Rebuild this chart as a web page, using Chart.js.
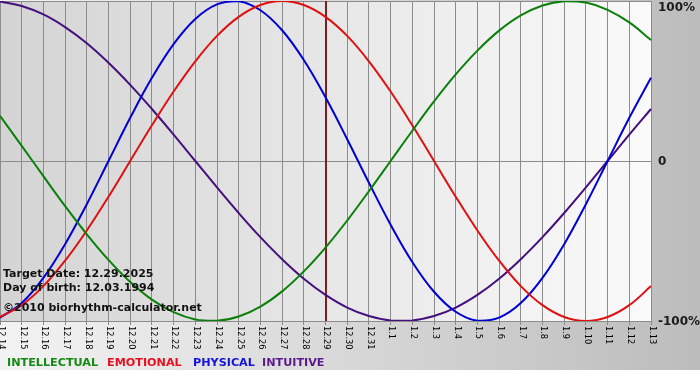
<!DOCTYPE html>
<html>
<head>
<meta charset="utf-8">
<title>Biorhythm</title>
<script src="https://cdn.jsdelivr.net/npm/chart.js@4/dist/chart.umd.min.js"></script>
<style>
  html, body { margin: 0; padding: 0; background: #ffffff; }
  #wrap { width: 700px; height: 380px; position: relative; }
</style>
</head>
<body>
<div id="wrap"><canvas id="bioChart"></canvas></div>
<script>
// Days shown on the x axis (12.14.2025 - 1.13.2026)
var days = ['12.14', '12.15', '12.16', '12.17', '12.18', '12.19', '12.20', '12.21', '12.22', '12.23',
            '12.24', '12.25', '12.26', '12.27', '12.28', '12.29', '12.30', '12.31', '1.1', '1.2',
            '1.3', '1.4', '1.5', '1.6', '1.7', '1.8', '1.9', '1.10', '1.11', '1.12', '1.13'];

// Cycle values in percent, one per day
var physical = [-97.9, -88.8, -73.1, -52.0, -27.0, 0, 27.0, 52.0, 73.1, 88.8, 97.9, 99.8, 94.2,
                81.7, 63.1, 39.8, 13.6, -13.6, -39.8, -63.1, -81.7, -94.2, -99.8, -97.9, -88.8,
                -73.1, -52.0, -27.0, 0, 27.0, 52.0];
var emotional = [-97.5, -90.1, -78.2, -62.3, -43.4, -22.3, 0, 22.3, 43.4, 62.3, 78.2, 90.1, 97.5,
                 100, 97.5, 90.1, 78.2, 62.3, 43.4, 22.3, 0, -22.3, -43.4, -62.3, -78.2, -90.1,
                 -97.5, -100, -97.5, -90.1, -78.2];
var intellectual = [28.2, 9.5, -9.5, -28.2, -45.8, -61.8, -75.6, -86.6, -94.5, -99.0, -99.9, -97.2,
                    -91.0, -81.5, -69.0, -54.1, -37.2, -18.9, 0, 18.9, 37.2, 54.1, 69.0, 81.5,
                    91.0, 97.2, 99.9, 99.0, 94.5, 86.6, 75.6];
var intuitive = [99.7, 96.9, 91.6, 83.7, 73.6, 61.4, 47.6, 32.5, 16.5, 0, -16.5, -32.5, -47.6,
                 -61.4, -73.6, -83.7, -91.6, -96.9, -99.7, -99.7, -96.9, -91.6, -83.7, -73.6,
                 -61.4, -47.6, -32.5, -16.5, 0, 16.5, 32.5];

var yTicks = [100, 0, -100];
var yTickLabels = ['100%', '0', '-100%'];
var targetDay = '12.29';
var infoLines = ['Target Date: 12.29.2025', 'Day of birth: 12.03.1994', '\u00a92010 biorhythm-calculator.net'];
var legendNames = ['INTELLECTUAL', 'EMOTIONAL', 'PHYSICAL', 'INTUITIVE'];

var FONT = '"DejaVu Sans", Verdana, sans-serif';
var GRID = '#8c8c8c';

// Backgrounds: light-to-dark frame, dark-to-light plot area
var backdropPlugin = {
    id: 'backdrop',
    beforeDraw: function (chart) {
        var ctx = chart.ctx, a = chart.chartArea;
        ctx.save();
        ctx.fillStyle = '#ffffff';
        ctx.fillRect(0, 0, chart.width, chart.height);
        var g = ctx.createLinearGradient(0, 0, chart.width, 0);
        g.addColorStop(0, '#f3f3f3');
        g.addColorStop(1, '#bcbcbc');
        ctx.fillStyle = g;
        ctx.fillRect(0, 0, chart.width, 370);
        var p = ctx.createLinearGradient(a.left, 0, a.right, 0);
        p.addColorStop(0, '#d4d4d4');
        p.addColorStop(1, '#fafafa');
        ctx.fillStyle = p;
        ctx.fillRect(a.left, a.top, a.right - a.left, a.bottom - a.top);
        ctx.restore();
    },
    beforeDatasetsDraw: function (chart) {
        // Target date marker
        var ctx = chart.ctx, a = chart.chartArea;
        var x = Math.round(chart.scales.x.getPixelForValue(days.indexOf(targetDay)));
        ctx.save();
        ctx.strokeStyle = '#7d1f1f';
        ctx.lineWidth = 2;
        ctx.beginPath();
        ctx.moveTo(x, a.top);
        ctx.lineTo(x, a.bottom);
        ctx.stroke();
        ctx.restore();
    },
    afterDraw: function (chart) {
        var ctx = chart.ctx, a = chart.chartArea;
        var xs = chart.scales.x, ys = chart.scales.y;
        ctx.save();

        // Rotated day labels, reading top to bottom
        ctx.fillStyle = '#000000';
        ctx.font = '8.2px ' + FONT;
        ctx.textAlign = 'left';
        ctx.textBaseline = 'middle';
        days.forEach(function (d, i) {
            var x = xs.getPixelForValue(i);
            ctx.save();
            ctx.translate(x + 1, a.bottom + 5);
            ctx.rotate(Math.PI / 2);
            ctx.fillText(d, 0, 0);
            ctx.restore();
        });

        // Percent labels on the right
        ctx.fillStyle = '#1a1a1a';
        ctx.font = 'bold 12px ' + FONT;
        var shift = [7, 1, 1];
        yTicks.forEach(function (v, i) {
            ctx.fillText(yTickLabels[i], a.right + 7, ys.getPixelForValue(v) + shift[i]);
        });

        // Info text
        ctx.font = 'bold 11px ' + FONT;
        ctx.textBaseline = 'alphabetic';
        ctx.fillStyle = '#111111';
        var infoY = [277, 291, 311];
        infoLines.forEach(function (t, i) {
            ctx.fillText(t, 3, infoY[i]);
        });

        // Coloured legend names
        ctx.font = 'bold 11.2px ' + FONT;
        var legendX = [7, 107, 193, 262];
        var legendColors = ['#148a14', '#e81020', '#1414d8', '#5a1a8c'];
        legendNames.forEach(function (t, i) {
            ctx.fillStyle = legendColors[i];
            ctx.fillText(t, legendX[i], 366);
        });
        ctx.restore();
    }
};

// Function to render the biorhythm line chart
function renderBioChart() {
    var ctx = document.getElementById('bioChart').getContext('2d');
    new Chart(ctx, {
        type: 'line',
        data: {
            labels: days,
            datasets: [
                { label: 'Intellectual', data: intellectual, borderColor: '#0a800a' },
                { label: 'Emotional', data: emotional, borderColor: '#e01010' },
                { label: 'Physical', data: physical, borderColor: '#0000d4' },
                { label: 'Intuitive', data: intuitive, borderColor: '#44107c' }
            ]
        },
        options: {
            responsive: true,
            maintainAspectRatio: false,
            animation: false,
            events: [],
            layout: { padding: { left: 0, top: 1, right: 49, bottom: 55 } },
            elements: {
                line: { borderWidth: 2, tension: 0.4, fill: false },
                point: { radius: 0 }
            },
            plugins: {
                legend: { display: false },
                tooltip: { enabled: false }
            },
            scales: {
                x: {
                    offset: false,
                    grid: { color: GRID, lineWidth: 1, drawTicks: true, tickLength: 4, tickColor: GRID },
                    border: { color: GRID },
                    ticks: { display: false },
                    afterFit: function (scale) { scale.height = 4; }
                },
                y: {
                    position: 'right',
                    min: -100,
                    max: 100,
                    grid: { color: GRID, lineWidth: 1, drawTicks: false },
                    border: { color: GRID },
                    ticks: { display: false, stepSize: 100 },
                    afterFit: function (scale) { scale.width = 0; }
                }
            }
        },
        plugins: [backdropPlugin]
    });
}

window.onload = function () {
    renderBioChart();
};
</script>
</body>
</html>
